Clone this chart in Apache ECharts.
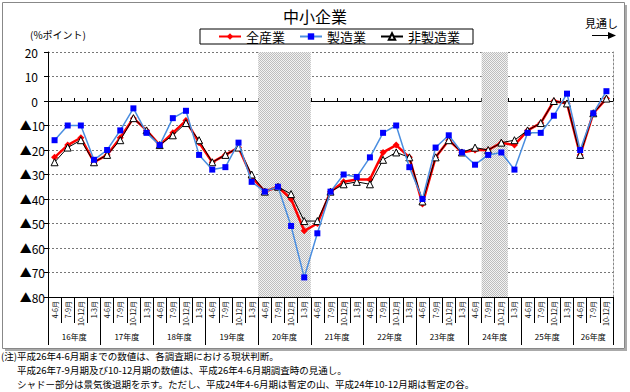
<!DOCTYPE html>
<html><head><meta charset="utf-8">
<script src="https://cdn.jsdelivr.net/npm/echarts@6/dist/echarts.min.js"></script>
<style>html,body{margin:0;padding:0;background:#fff}#c{width:630px;height:392px}</style>
</head><body><div id="c"></div>
<script>
// ---- data ----
const fiscalYears = ['16年度','17年度','18年度','19年度','20年度','21年度','22年度','23年度','24年度','25年度','26年度'];
const quarterNames = ['4-6月','7-9月','10-12月','1-3月'];
const quartersInYear = [4,4,4,4,4,4,4,4,4,4,3];
const allIndustries = [-23,-18,-15,-25,-22,-15,-7,-12,-18,-13,-8,-17,-25,-22,-19,-31,-37,-35,-40,-53,-50,-37,-33,-32,-32,-21,-18,-23,-42,-23,-16,-21,-20,-20,-17,-18,-12,-9,0,-1,-22,-5,1];
const manufacturing = [-16,-10,-10,-24,-20,-12,-3,-13,-18,-7,-4,-22,-28,-27,-17,-33,-37,-35,-51,-72,-54,-37,-30,-31,-23,-13,-10,-27,-40,-19,-14,-21,-26,-22,-21,-28,-13,-13,-6,3,-20,-5,4];
const nonManufacturing = [-25,-19,-16,-25,-22,-16,-7,-12,-18,-14,-9,-16,-25,-22,-19,-30,-37,-35,-38,-49,-49,-37,-34,-33,-34,-24,-21,-23,-41,-23,-16,-21,-19,-20,-17,-16,-12,-9,0,-1,-22,-5,1];
const seriesNames = ['全産業','製造業','非製造業'];
// recession shading, as [first quarter index, last quarter index]
const shadedQuarters = [[16,19],[33,34]];
const yTicks = {min:-80, max:20, interval:10};

// ---- derived ----
const categories = [];
const yearStartIdx = [];
fiscalYears.forEach((fy,i)=>{ yearStartIdx.push(categories.length); for(let q=0;q<quartersInYear[i];q++) categories.push(quarterNames[q]); });
const N = categories.length;
const halfCats = []; for(let i=0;i<=2*N;i++) halfCats.push(String(i));
const yearLabelAt = {};
fiscalYears.forEach((fy,i)=>{ yearLabelAt[2*yearStartIdx[i]+quartersInYear[i]] = fy; });
const yearBoundaries = new Set(); yearStartIdx.forEach(s=>yearBoundaries.add(2*s)); yearBoundaries.add(2*N);

const cv = document.createElement('canvas'); cv.width=2; cv.height=2;
const cx = cv.getContext('2d');
cx.fillStyle='#f2f2f2'; cx.fillRect(0,0,2,2);
cx.fillStyle='#bdbdbd'; cx.fillRect(0,0,1,1); cx.fillRect(1,1,1,1);
const shadePattern = {image: cv.toDataURL(), repeat:'repeat'};

const FONT = '"Noto Sans CJK JP", sans-serif';
const chart = echarts.init(document.getElementById('c'), null, {renderer:'svg'});
const t = (text,left,top,size)=>({text, left, top, padding:0, textStyle:{fontSize:size, fontWeight:'normal', color:'#000', fontFamily:FONT}});
chart.setOption({
  animation:false,
  textStyle:{fontFamily:FONT},
  title:[
    t('中小企業','center',8,16),
    t('(%ポイント)',30,29,10),
    t('見通し',585,17,11),
    t('(注)平成26年4-6月期までの数値は、各調査期における現状判断。',1,351,9.5),
    t('平成26年7-9月期及び10-12月期の数値は、平成26年4-6月期調査時の見通し。',17,365,9.5),
    t('シャドー部分は景気後退期を示す。ただし、平成24年4-6月期は暫定の山、平成24年10-12月期は暫定の谷。',17,379,9.5)
  ],
  legend:{left:200, top:29, data:seriesNames, borderColor:'#000', borderWidth:1, padding:[1,13,1,18],
    itemWidth:22, itemHeight:8, itemGap:14, textStyle:{fontSize:13, color:'#000', fontFamily:FONT}},
  graphic:[
    {type:'rect', shape:{x:2.5,y:2.5,width:622,height:346}, style:{fill:null, stroke:'#888', lineWidth:1}, z:-1},
    {type:'rect', shape:{x:625,y:5,width:2,height:346}, style:{fill:'#aaa'}},
    {type:'rect', shape:{x:5,y:349,width:622,height:2}, style:{fill:'#aaa'}},
    {type:'line', shape:{x1:592,y1:35.5,x2:609,y2:35.5}, style:{stroke:'#000', lineWidth:1}},
    {type:'polygon', shape:{points:[[608,32],[616,35.5],[608,39]]}, style:{fill:'#000'}}
  ],
  grid:{left:48, top:52, width:565, height:245},
  xAxis:[
    {type:'category', data:categories, position:'bottom', boundaryGap:true,
      axisLine:{onZero:false, lineStyle:{color:'#000', width:1}},
      axisTick:{show:true, interval:0, length:26, lineStyle:{color:'#000'}},
      axisLabel:{interval:0, rotate:90, fontSize:7, margin:4, color:'#000', fontFamily:FONT},
      splitLine:{show:false}},
    {type:'category', data:halfCats, position:'bottom', boundaryGap:false,
      axisLine:{show:false, onZero:false},
      axisTick:{show:true, length:48, interval:(i)=>yearBoundaries.has(i), lineStyle:{color:'#000'}},
      axisLabel:{interval:(i)=>yearLabelAt[i]!==undefined, formatter:(v,i)=>yearLabelAt[i]||'', fontSize:8, margin:35, color:'#000', fontFamily:FONT},
      splitLine:{show:false}},
    {type:'category', data:categories, position:'bottom', boundaryGap:true,
      axisLine:{onZero:true, lineStyle:{color:'#000', width:1}},
      axisTick:{show:true, inside:true, interval:0, length:3, lineStyle:{color:'#000'}},
      axisLabel:{show:false}, splitLine:{show:false}}
  ],
  yAxis:[
    {type:'value', min:yTicks.min, max:yTicks.max, interval:yTicks.interval, position:'left',
      axisLine:{show:true, lineStyle:{color:'#000'}},
      axisTick:{show:true, length:4, lineStyle:{color:'#000'}},
      axisLabel:{margin:3, fontSize:12, color:'#000', fontFamily:FONT,
        formatter:(v)=> v<0 ? '▲'+(-v) : '{p|'+v+'}',
        rich:{p:{fontSize:12, color:'#000', padding:[0,7,0,0], fontFamily:FONT}}},
      splitLine:{show:true, lineStyle:{color:'#777', type:[2,2], width:1}}},
    {type:'value', min:yTicks.min, max:yTicks.max, interval:yTicks.interval, position:'right',
      axisLine:{show:true, lineStyle:{color:'#888', type:[2,2]}},
      axisTick:{show:false}, axisLabel:{show:false}, splitLine:{show:false}}
  ],
  series:[
    {type:'line', name:'shade', xAxisIndex:1, yAxisIndex:0, data:[], silent:true, z:0,
      markArea:{silent:true, itemStyle:{color:shadePattern},
        data: shadedQuarters.map(([a,b])=>[{xAxis:2*a},{xAxis:2*(b+1)}])}},
    {type:'line', name:seriesNames[0], data:allIndustries, z:3,
      symbol:'diamond', symbolSize:7,
      lineStyle:{color:'#ff0000', width:2.5}, itemStyle:{color:'#ff0000'}},
    {type:'line', name:seriesNames[2], data:nonManufacturing, z:4,
      symbol:'triangle', symbolSize:7,
      lineStyle:{color:'#000', width:1}, itemStyle:{color:'#fff', borderColor:'#000', borderWidth:1}},
    {type:'line', name:seriesNames[1], data:manufacturing, z:5,
      symbol:'rect', symbolSize:6,
      lineStyle:{color:'#4a8ee0', width:1.5}, itemStyle:{color:'#0000ff'}}
  ]
});
</script></body></html>
